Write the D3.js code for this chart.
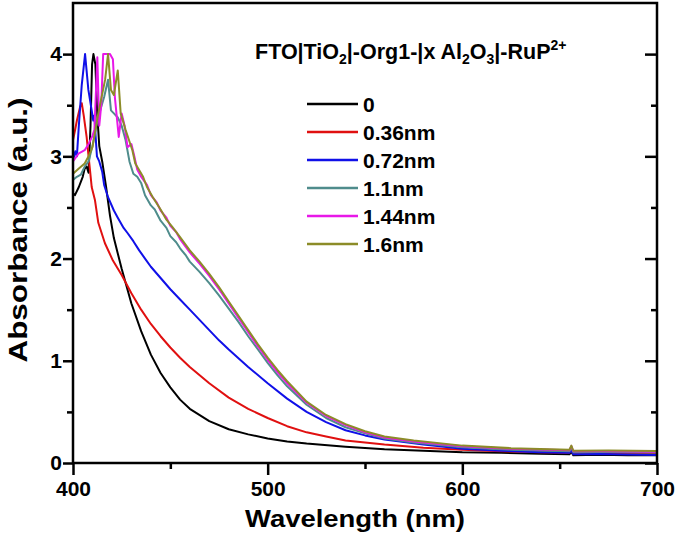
<!DOCTYPE html>
<html>
<head>
<meta charset="utf-8">
<script src="https://cdn.jsdelivr.net/npm/d3@7"></script>
<style>
  html, body { margin: 0; padding: 0; background: #fff; }
  svg { display: block; }
  text { font-family: "Liberation Sans", Arial, Helvetica, sans-serif; font-weight: bold; fill: #000; }
</style>
</head>
<body>
<svg id="chart" width="677" height="535"></svg>
<script>
// ---------------- data ----------------
const seriesNames = ["0", "0.36nm", "0.72nm", "1.1nm", "1.44nm", "1.6nm"];
const seriesColors = ["#000000", "#e01010", "#1010e8", "#4f8c8c", "#e818e8", "#8c8c28"];

const xTicks = [400, 500, 600, 700];
const xMinorTicks = [450, 550, 650];
const yTicks = [0, 1, 2, 3, 4];
const yMinorTicks = [0.5, 1.5, 2.5, 3.5];

// [wavelength (nm), absorbance]
const s0 = [
  [400,2.64],[401,2.62],[403,2.7],[405,2.8],[406,2.88],[407,2.9],[408,2.84],[409,3.3],[409.8,3.9],[410.5,4.0],
  [411.5,3.9],[412.5,3.4],[413.5,3.1],[415,2.95],[417,2.7],[419,2.42],[421,2.2],[423,2.05],[425,1.9],
  [430,1.56],[435,1.29],[440,1.06],[445,0.88],[450,0.74],[455,0.62],[460,0.53],[470,0.41],[480,0.33],
  [490,0.28],[500,0.24],[510,0.21],[520,0.19],[540,0.16],[560,0.135],[580,0.12],[600,0.105],[620,0.1],
  [640,0.09],[655,0.085],[656,0.11],[657,0.075],[670,0.08],[685,0.075],[700,0.075]
];
const s036 = [
  [400,3.16],[401,3.25],[402,3.35],[403.6,3.48],[404.5,3.52],[405.5,3.4],[407,3.19],[408,3.0],[408.7,2.87],
  [409.6,2.7],[411.3,2.57],[413,2.35],[416.4,2.15],[420.5,1.98],[425,1.84],[430,1.66],[435,1.5],[440,1.36],
  [445,1.24],[450,1.13],[455,1.03],[460,0.94],[470,0.78],[480,0.64],[490,0.53],[500,0.44],[510,0.36],
  [520,0.3],[530,0.26],[540,0.22],[560,0.18],[580,0.15],[600,0.13],[620,0.115],[640,0.105],[655,0.1],
  [656,0.13],[657,0.09],[670,0.095],[685,0.09],[700,0.09]
];
const s072 = [
  [400,2.96],[401.2,3.05],[402,3.0],[403,3.3],[404.5,3.7],[406.2,4.0],[407.9,3.65],[409.6,3.45],[410.4,3.35],
  [411,3.4],[411.6,3.2],[412.3,3.0],[413.5,2.95],[415,2.85],[416,2.72],[418,2.6],[421,2.47],[423,2.4],
  [426,2.3],[428,2.25],[431,2.17],[434,2.08],[437,2.0],[440,1.92],[445,1.81],[450,1.7],[455,1.6],
  [460,1.5],[465,1.4],[470,1.3],[475,1.2],[480,1.11],[490,0.94],[500,0.78],[510,0.63],[520,0.5],
  [530,0.4],[540,0.32],[550,0.27],[560,0.23],[580,0.18],[600,0.14],[620,0.12],[640,0.105],[655,0.1],
  [656,0.125],[657,0.085],[670,0.088],[685,0.082],[700,0.078]
];
const s11 = [
  [400,2.77],[402,2.8],[404,2.82],[406,2.9],[408,2.95],[410,3.1],[412,3.3],[414,3.45],[416,3.58],
  [418,3.75],[419.5,3.45],[421,3.42],[423,3.38],[425,3.3],[427,3.16],[429,2.95],[431,2.83],[433,2.8],
  [435,2.74],[437,2.62],[440,2.52],[442,2.48],[445,2.37],[448,2.3],[450,2.22],[453,2.16],[455,2.1],
  [458,2.03],[460,1.97],[465,1.87],[470,1.76],[475,1.64],[480,1.51],[485,1.38],[490,1.24],[495,1.11],
  [500,0.98],[505,0.86],[510,0.75],[520,0.57],[530,0.44],[540,0.35],[550,0.29],[560,0.24],[575,0.2],
  [600,0.155],[625,0.13],[645,0.12],[655,0.115],[656,0.155],[657,0.105],[675,0.108],[700,0.102]
];
const s144 = [
  [400,2.95],[403,3.03],[406,3.06],[408,3.12],[410,3.2],[411,3.26],[412.5,3.97],[413.5,3.3],[414.5,3.5],
  [415.5,4.0],[417,4.0],[419,4.0],[420.5,3.95],[421.5,3.58],[423.5,3.19],[425,3.42],[426.5,3.3],
  [428,3.09],[430,3.12],[431.5,3.0],[433,2.87],[435,2.8],[438,2.72],[440,2.62],[443,2.55],[445,2.47],
  [448,2.4],[450,2.32],[453,2.26],[455,2.19],[460,2.06],[465,1.95],[470,1.83],[475,1.7],[480,1.56],
  [485,1.42],[490,1.28],[495,1.14],[500,1.01],[505,0.89],[510,0.78],[520,0.59],[530,0.46],[540,0.37],
  [550,0.3],[560,0.25],[575,0.21],[600,0.165],[625,0.14],[645,0.13],[655,0.125],[656,0.165],[657,0.115],
  [675,0.116],[700,0.11]
];
const s16 = [
  [400,2.83],[403,2.88],[406,2.93],[408,3.0],[410,3.09],[413,3.42],[416.5,3.75],[418,4.0],[419.5,3.65],
  [421,3.6],[423,3.84],[424.5,3.42],[427,3.26],[430.5,3.06],[432,2.93],[436,2.8],[438,2.7],[441,2.6],
  [445,2.48],[448,2.38],[451,2.31],[455,2.21],[460,2.08],[465,1.97],[470,1.85],[475,1.72],[480,1.58],
  [485,1.44],[490,1.3],[495,1.16],[500,1.03],[505,0.91],[510,0.8],[520,0.6],[530,0.47],[540,0.38],
  [550,0.31],[560,0.26],[575,0.22],[600,0.17],[625,0.145],[645,0.135],[655,0.13],[656,0.17],[657,0.12],
  [675,0.122],[700,0.118]
];
const seriesData = [s0, s036, s072, s11, s144, s16];

// ---------------- layout ----------------
const svg = d3.select("#chart");
const L = 73, R = 657, T = 3, B = 463;
const x = d3.scaleLinear().domain([400, 700]).range([L, R]);
const y = d3.scaleLinear().domain([0, 4.5]).range([B, T]);

const line = d3.line().x(d => x(d[0])).y(d => y(d[1]));

const plot = svg.append("g");
seriesData.forEach((s, i) => {
  plot.append("path")
    .datum(s)
    .attr("fill", "none")
    .attr("stroke", seriesColors[i])
    .attr("stroke-width", 2)
    .attr("stroke-linejoin", "round")
    .attr("d", line);
});

// axes
function styleAxis(g) {
  g.select(".domain").remove();
  g.selectAll(".tick line").attr("stroke", "#000").attr("stroke-width", 2.5);
  g.selectAll(".tick text").style("font-size", "21px").style("font-weight", "bold")
    .style("font-family", '"Liberation Sans", Arial, sans-serif').attr("fill", "#000");
}
const gx = svg.append("g").attr("transform", `translate(0,${B})`)
  .call(d3.axisBottom(x).tickValues(xTicks).tickSize(12).tickPadding(6).tickFormat(d3.format("d")));
styleAxis(gx);
const gxm = svg.append("g").attr("transform", `translate(0,${B})`)
  .call(d3.axisBottom(x).tickValues(xMinorTicks).tickSize(6).tickFormat(""));
styleAxis(gxm);

const gy = svg.append("g").attr("transform", `translate(${L},0)`)
  .call(d3.axisLeft(y).tickValues(yTicks).tickSize(10).tickPadding(1).tickFormat(d3.format("d")));
styleAxis(gy);
const gym = svg.append("g").attr("transform", `translate(${L},0)`)
  .call(d3.axisLeft(y).tickValues(yMinorTicks).tickSize(6).tickFormat(""));
styleAxis(gym);

const gr = svg.append("g").attr("transform", `translate(${R},0)`)
  .call(d3.axisLeft(y).tickValues(yTicks).tickSize(12).tickFormat(""));
styleAxis(gr);
const grm = svg.append("g").attr("transform", `translate(${R},0)`)
  .call(d3.axisLeft(y).tickValues(yMinorTicks).tickSize(6).tickFormat(""));
styleAxis(grm);

// frame
svg.append("rect").attr("x", L).attr("y", T).attr("width", R - L).attr("height", B - T)
  .attr("fill", "none").attr("stroke", "#000").attr("stroke-width", 2.5);

// axis titles
svg.append("text").attr("x", 355).attr("y", 527).attr("text-anchor", "middle")
  .style("font-size", "24px").attr("textLength", 220).attr("lengthAdjust", "spacingAndGlyphs")
  .text("Wavelength (nm)");
svg.append("text").attr("transform", "translate(27,230) rotate(-90)").attr("text-anchor", "middle")
  .style("font-size", "25px").attr("textLength", 265).attr("lengthAdjust", "spacingAndGlyphs")
  .text("Absorbance (a.u.)");

// title with sub/superscripts
const title = svg.append("text").attr("x", 255).attr("y", 59).style("font-size", "21.5px");
const parts = [
  ["FTO|TiO", "n"], ["2", "sub"], ["|-Org1-|x Al", "n"], ["2", "sub"], ["O", "n"], ["3", "sub"],
  ["|-RuP", "n"], ["2+", "sup"]
];
let shift = 0;
parts.forEach(([t, k]) => {
  const ts = title.append("tspan").text(t);
  let target = k === "sub" ? 5 : (k === "sup" ? -9 : 0);
  ts.attr("dy", target - shift);
  shift = target;
  if (k !== "n") ts.style("font-size", "14px");
});

// legend
const lg = svg.append("g");
seriesNames.forEach((name, i) => {
  const yy = 104 + i * 28;
  lg.append("line").attr("x1", 307).attr("x2", 358).attr("y1", yy).attr("y2", yy)
    .attr("stroke", seriesColors[i]).attr("stroke-width", 2.5);
  lg.append("text").attr("x", 363).attr("y", yy + 7.5).style("font-size", "21px").text(name);
});
</script>
</body>
</html>
